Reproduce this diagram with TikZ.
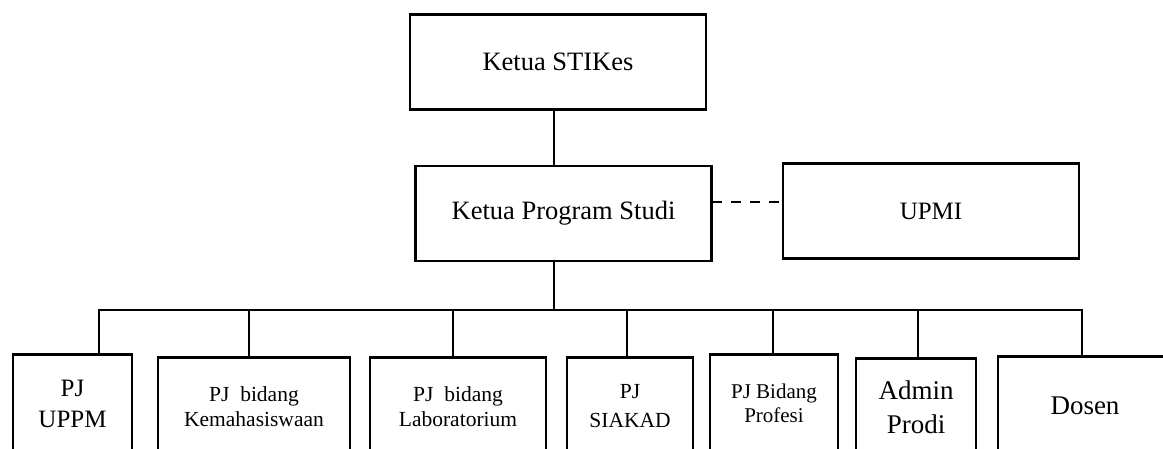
\documentclass[tikz,border=0pt]{standalone}
\usepackage{fontspec}
\setmainfont{Liberation Serif}
\usepackage{tikz}
\usetikzlibrary{positioning}
\tikzset{
	unit/.style={draw, line width=2.9pt, align=center, inner sep=2pt},
	topunit/.style={unit, minimum width=296pt, minimum height=95pt,
		font=\fontsize{26.5}{30}\selectfont},
	staff/.style={unit, anchor=north, minimum height=98pt},
	link/.style={line width=2.9pt},
	dashlink/.style={link, dash pattern=on 10pt off 9pt}
}

\begin{document}
\begin{tikzpicture}[x=1pt, y=-1pt]
	\useasboundingbox (0,0) rectangle (1163,448);
	\clip (0,0) rectangle (1163,448);

%	pimpinan
	\node[topunit] (stikes) at (558,62) {Ketua STIKes};
	\node[topunit] (kaprodi) at (563.5,213.5) {Ketua Program Studi};
	\node[topunit, font=\fontsize{25}{30}\selectfont] (upmi) at (931,211) {UPMI};

%	penanggung jawab
	\node[staff, minimum width=119pt, font=\fontsize{25}{31}\selectfont] (pjuppm) at (72.5,353) {PJ\\UPPM};
	\node[staff, minimum width=192pt, font=\fontsize{21.5}{25}\selectfont] (pjmhs) at (254,356) {PJ~~bidang\\Kemahasiswaan};
	\node[staff, minimum width=176pt, font=\fontsize{21.5}{25}\selectfont] (pjlab) at (458,356) {PJ~~bidang\\Laboratorium};
	\node[staff, minimum width=126pt, font=\fontsize{21.5}{29}\selectfont] (pjsiakad) at (630,356) {PJ\\SIAKAD};
	\node[staff, minimum width=128pt, font=\fontsize{21}{24}\selectfont] (pjprof) at (774,353) {PJ Bidang\\Profesi};
	\node[staff, minimum width=120pt, font=\fontsize{27}{34}\selectfont] (admin) at (916,357) {Admin\\Prodi};
	\node[staff, minimum width=174pt, font=\fontsize{27}{32}\selectfont] (dosen) at (1085,355) {Dosen};

%	garis komando
	\coordinate (bus) at (554,310);
	\coordinate (busl) at (99,310);
	\coordinate (busr) at (1082,310);
	\draw[link] (stikes.south -| bus) -- (kaprodi.north -| bus);
	\draw[link] (kaprodi.south -| bus) -- (bus);
	\draw[link] (busl |- pjuppm.north) -- (busl) -- (busr) -- (busr |- dosen.north);
	\foreach \n/\x in {pjmhs/249, pjlab/453, pjsiakad/627, pjprof/773, admin/918}
		\draw[link] (\x,310) -- (\x,0 |- \n.north);

%	koordinasi
	\coordinate (koord) at (712,202);
	\draw[dashlink] (koord) -- (koord -| upmi.west);
\end{tikzpicture}
\end{document}
